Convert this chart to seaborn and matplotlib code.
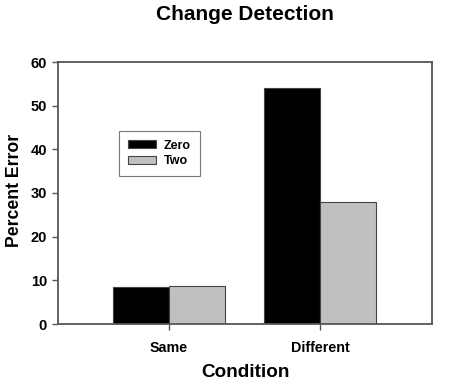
import matplotlib
matplotlib.use("Agg")
import matplotlib.pyplot as plt
import seaborn as sns
import pandas as pd

conditions = ["Same", "Different"]
groups = ["Zero", "Two"]
zero_vals = [8.5, 54.0]
two_vals = [8.7, 27.9]
y_ticks = [0, 10, 20, 30, 40, 50, 60]

sns.set_theme(style="white")
plt.rcParams['font.family'] = ['Liberation Sans', 'DejaVu Sans']
plt.rcParams['text.color'] = 'black'
plt.rcParams['axes.labelcolor'] = 'black'
plt.rcParams['xtick.color'] = 'black'
plt.rcParams['ytick.color'] = 'black'

df = pd.DataFrame({
    "Condition": conditions * 2,
    "Group": [groups[0]] * 2 + [groups[1]] * 2,
    "Value": zero_vals + two_vals,
})

fig = plt.figure(figsize=(4.52, 3.85), dpi=100)
ax = fig.add_axes([58 / 452, 1 - 324 / 385, 374 / 452, 262 / 385])

sns.barplot(data=df, x="Condition", y="Value", hue="Group", order=conditions,
            hue_order=groups, palette={"Zero": "#000000", "Two": "#c0c0c0"},
            width=0.74, edgecolor="#444444", linewidth=0.8, ax=ax, errorbar=None)

ax.set_xlim(-0.735, 1.742)
ax.set_ylim(0, 60)
ax.set_yticks(y_ticks)
ax.set_yticklabels([str(t) for t in y_ticks], fontsize=10.5, fontweight="bold")
ax.set_xticks([0, 1])
ax.set_xticklabels(conditions, fontsize=10.3, fontweight="bold")
ax.tick_params(axis="both", which="both", direction="out", length=4, width=1,
               color="#555555", labelcolor="black", left=True, bottom=True)
ax.tick_params(axis="x", pad=8)
ax.tick_params(axis="y", pad=4)
for s in ax.spines.values():
    s.set_visible(True)
    s.set_color("#555555")
    s.set_linewidth(1.3)

ax.set_xlabel("Condition", fontsize=13.6, fontweight="bold", labelpad=7, color="black")
ax.set_ylabel("Percent Error", fontsize=12.7, fontweight="bold", color="black")
ax.yaxis.set_label_coords((14 - 58) / 374, (324 - 190) / 262)
ax.yaxis.label.set_va("center")
fig.text(245 / 452, 1 - 15 / 385, "Change Detection", ha="center", va="center",
         fontsize=15, fontweight="bold", color="black")

leg = ax.legend(loc="upper left", bbox_to_anchor=(61 / 374, (324 - 131) / 262),
                frameon=True, fancybox=False, prop={"weight": "bold", "size": 9},
                handlelength=2.3, handleheight=0.6, borderpad=0.7, labelspacing=0.3,
                handletextpad=0.6, borderaxespad=0)
leg.get_frame().set_edgecolor("#555555")
leg.get_frame().set_linewidth(0.8)
leg.set_title(None)
for t in leg.get_texts():
    t.set_color("black")

fig.savefig("out.png", dpi=100, facecolor="white")
